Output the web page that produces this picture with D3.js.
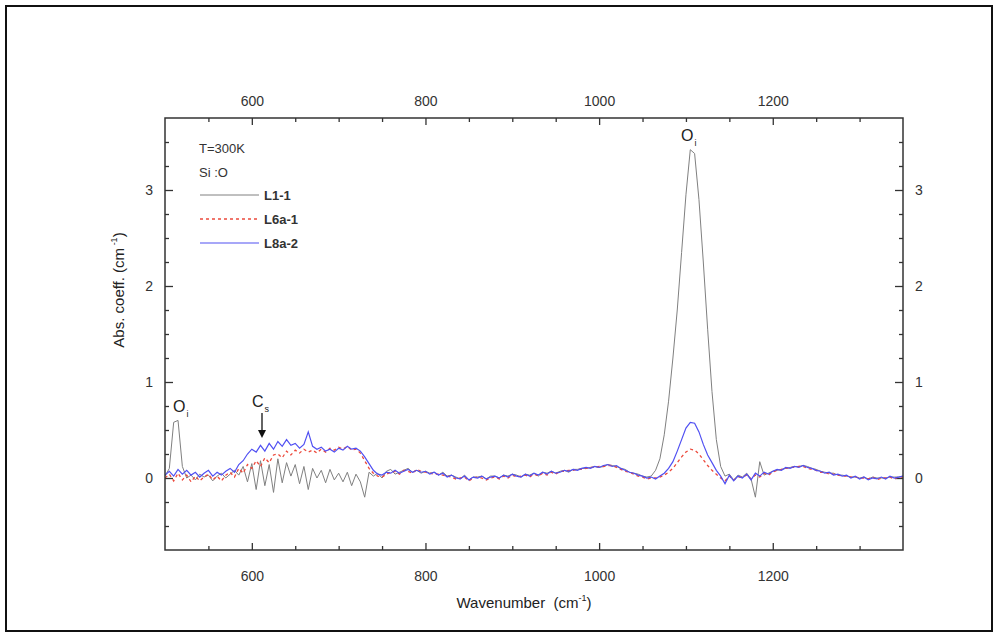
<!DOCTYPE html>
<html>
<head>
<meta charset="utf-8">
<script src="https://d3js.org/d3.v7.min.js"></script>
<style>
  body { margin: 0; background: #fff; }
  svg { display: block; font-family: "Liberation Sans", Arial, sans-serif; }
  .axis text { font-size: 14px; fill: #333; }
  .axis line { stroke: #333; stroke-width: 1.3; }
  .axis path { display: none; }
</style>
</head>
<body>
<svg width="999" height="637"></svg>
<script>
// wavenumber grid (cm^-1)
var wavenumbers = [
  500, 505, 510, 515, 520, 525, 530, 535, 540, 545, 550, 555, 560, 565, 570, 575, 580, 585, 590, 595,
  600, 605, 610, 615, 620, 625, 630, 635, 640, 645, 650, 655, 660, 665, 670, 675, 680, 685, 690, 695,
  700, 705, 710, 715, 720, 725, 730, 735, 740, 745, 750, 755, 760, 765, 770, 775, 780, 785, 790, 795,
  800, 805, 810, 815, 820, 825, 830, 835, 840, 845, 850, 855, 860, 865, 870, 875, 880, 885, 890, 895,
  900, 905, 910, 915, 920, 925, 930, 935, 940, 945, 950, 955, 960, 965, 970, 975, 980, 985, 990, 995,
  1000, 1005, 1010, 1015, 1020, 1025, 1030, 1035, 1040, 1045, 1050, 1055, 1060, 1065, 1070, 1075, 1080, 1085, 1090, 1095,
  1100, 1105, 1110, 1115, 1120, 1125, 1130, 1135, 1140, 1145, 1150, 1155, 1160, 1165, 1170, 1175, 1180, 1185, 1190, 1195,
  1200, 1205, 1210, 1215, 1220, 1225, 1230, 1235, 1240, 1245, 1250, 1255, 1260, 1265, 1270, 1275, 1280, 1285, 1290, 1295,
  1300, 1305, 1310, 1315, 1320, 1325, 1330, 1335, 1340, 1345, 1350
];

var seriesL1 = [
  0.02, 0.10, 0.58, 0.60, 0.12, 0.00, 0.03, -0.02, 0.04, 0.01, 0.03, -0.03, 0.02, 0.05, 0.00, 0.04, 0.08, 0.03, 0.12, -0.04,
  0.15, -0.12, 0.18, -0.08, 0.14, -0.15, 0.20, -0.05, 0.16, 0.02, 0.14, -0.06, 0.12, -0.12, 0.10, 0.00, 0.08, -0.05, 0.09, -0.02,
  0.05, -0.04, 0.06, -0.08, 0.04, -0.04, -0.20, 0.06, 0.02, 0.05, 0.00, 0.07, 0.09, 0.04, 0.06, 0.08, 0.10, 0.06, 0.08, 0.05,
  0.07, 0.05, 0.06, 0.03, 0.06, 0.02, 0.03, 0.01, -0.01, 0.03, -0.02, 0.01, 0.01, 0.02, -0.01, 0.02, 0.02, 0.00, 0.03, 0.02,
  0.04, 0.03, 0.01, 0.04, 0.03, 0.05, 0.02, 0.06, 0.05, 0.07, 0.05, 0.07, 0.08, 0.06, 0.09, 0.09, 0.10, 0.10, 0.11, 0.12,
  0.11, 0.12, 0.14, 0.13, 0.12, 0.10, 0.09, 0.06, 0.05, 0.04, 0.02, 0.01, 0.02, 0.08, 0.20, 0.45, 0.80, 1.25, 1.75, 2.35,
  2.95, 3.42, 3.38, 2.90, 2.25, 1.55, 0.90, 0.40, 0.12, 0.02, 0.04, -0.02, 0.03, 0.01, 0.05, -0.01, -0.20, 0.17, 0.03, 0.05,
  0.07, 0.08, 0.09, 0.10, 0.11, 0.12, 0.12, 0.13, 0.12, 0.10, 0.09, 0.07, 0.06, 0.05, 0.05, 0.03, 0.03, 0.02, 0.01, 0.01,
  0.00, 0.01, -0.01, 0.01, 0.00, 0.00, 0.00, 0.01, 0.01, 0.01, 0.02
];

var seriesL6a = [
  0.00, 0.04, -0.03, 0.05, -0.02, 0.03, -0.04, 0.02, -0.03, 0.01, 0.04, -0.02, 0.02, -0.03, 0.03, 0.06, 0.01, 0.10, 0.05, 0.14,
  0.10, 0.18, 0.12, 0.21, 0.16, 0.24, 0.25, 0.21, 0.28, 0.24, 0.29, 0.26, 0.30, 0.27, 0.29, 0.26, 0.30, 0.27, 0.31, 0.29,
  0.32, 0.30, 0.33, 0.29, 0.30, 0.26, 0.18, 0.10, 0.05, 0.02, 0.01, 0.04, 0.06, 0.07, 0.04, 0.08, 0.07, 0.05, 0.09, 0.07,
  0.06, 0.05, 0.04, 0.04, 0.03, 0.02, 0.01, -0.01, 0.00, 0.01, -0.03, 0.00, 0.01, 0.00, -0.02, 0.00, 0.01, -0.01, 0.02, 0.00,
  0.03, 0.01, 0.02, 0.03, 0.01, 0.04, 0.02, 0.05, 0.03, 0.06, 0.04, 0.07, 0.07, 0.08, 0.08, 0.09, 0.09, 0.10, 0.11, 0.11,
  0.12, 0.12, 0.13, 0.13, 0.11, 0.09, 0.07, 0.06, 0.04, 0.02, 0.01, -0.01, 0.00, 0.00, 0.01, 0.03, 0.06, 0.10, 0.16, 0.22,
  0.27, 0.30, 0.29, 0.25, 0.19, 0.13, 0.08, 0.04, 0.00, -0.03, 0.02, -0.02, 0.01, 0.01, 0.03, -0.01, 0.03, 0.01, 0.05, 0.03,
  0.06, 0.08, 0.09, 0.10, 0.11, 0.11, 0.12, 0.12, 0.10, 0.09, 0.08, 0.06, 0.06, 0.04, 0.04, 0.03, 0.02, 0.02, 0.01, 0.01,
  0.00, 0.00, -0.01, 0.01, -0.02, 0.00, 0.00, 0.01, -0.01, 0.01, 0.01
];

var seriesL8a = [
  0.03, 0.07, 0.02, 0.09, 0.04, 0.08, 0.03, 0.06, 0.01, 0.05, 0.08, 0.02, 0.06, 0.03, 0.07, 0.10, 0.06, 0.14, 0.18, 0.25,
  0.30, 0.27, 0.34, 0.28, 0.36, 0.30, 0.38, 0.33, 0.40, 0.34, 0.36, 0.31, 0.35, 0.48, 0.33, 0.30, 0.32, 0.28, 0.30, 0.27,
  0.31, 0.29, 0.33, 0.30, 0.31, 0.28, 0.22, 0.15, 0.08, 0.04, 0.03, 0.06, 0.05, 0.08, 0.05, 0.07, 0.09, 0.06, 0.08, 0.06,
  0.07, 0.04, 0.06, 0.03, 0.05, 0.01, 0.03, 0.00, -0.01, 0.02, -0.02, 0.01, 0.00, 0.02, -0.01, 0.01, 0.02, 0.00, 0.03, 0.01,
  0.04, 0.02, 0.01, 0.04, 0.02, 0.05, 0.03, 0.06, 0.04, 0.07, 0.05, 0.06, 0.08, 0.07, 0.09, 0.08, 0.10, 0.11, 0.10, 0.12,
  0.11, 0.13, 0.14, 0.12, 0.13, 0.10, 0.08, 0.06, 0.05, 0.03, 0.02, 0.00, 0.01, -0.01, 0.02, 0.05, 0.10, 0.17, 0.28, 0.40,
  0.52, 0.58, 0.57, 0.48, 0.35, 0.24, 0.16, 0.08, 0.02, -0.06, 0.03, -0.03, 0.02, 0.00, 0.04, -0.02, 0.05, 0.02, 0.06, 0.04,
  0.07, 0.09, 0.08, 0.11, 0.10, 0.12, 0.11, 0.13, 0.11, 0.10, 0.08, 0.07, 0.05, 0.06, 0.03, 0.04, 0.02, 0.03, 0.00, 0.02,
  -0.01, 0.01, -0.02, 0.00, -0.01, 0.01, -0.01, 0.02, 0.00, 0.01, 0.02
];

var xTicks = [600, 800, 1000, 1200];
var xMinor = [550, 650, 700, 750, 850, 900, 950, 1050, 1100, 1150, 1250, 1300];
var yTicks = [0, 1, 2, 3];
var yMinor = [-0.5, -0.25, 0.25, 0.5, 0.75, 1.25, 1.5, 1.75, 2.25, 2.5, 2.75, 3.25, 3.5];

var legendItems = [
  { name: 'L1-1', values: seriesL1, color: '#808080', dash: null, width: 1 },
  { name: 'L6a-1', values: seriesL6a, color: '#ec4a3c', dash: '3,3', width: 1.3 },
  { name: 'L8a-2', values: seriesL8a, color: '#5050f2', dash: null, width: 1.2 }
];

var svg = d3.select('svg');

// outer frame
svg.append('rect')
  .attr('x', 6).attr('y', 6)
  .attr('width', 986).attr('height', 625)
  .attr('fill', 'none')
  .attr('stroke', '#111')
  .attr('stroke-width', 2);

var plotLeft = 165, plotRight = 903, plotTop = 118, plotBottom = 550;

var x = d3.scaleLinear().domain([500, 1350]).range([plotLeft, plotRight]);
var y = d3.scaleLinear().domain([-0.75, 3.75]).range([plotBottom, plotTop]);

// axes (ticks pointing inward)
svg.append('g').attr('class', 'axis')
  .attr('transform', 'translate(0,' + plotBottom + ')')
  .call(d3.axisBottom(x).tickValues(xTicks).tickSizeInner(-7).tickSizeOuter(0).tickPadding(21).tickFormat(d3.format('d')));
svg.append('g').attr('class', 'axis')
  .attr('transform', 'translate(0,' + plotBottom + ')')
  .call(d3.axisBottom(x).tickValues(xMinor).tickSize(-4).tickFormat(''));
svg.append('g').attr('class', 'axis')
  .attr('transform', 'translate(0,' + plotTop + ')')
  .call(d3.axisTop(x).tickValues(xTicks).tickSizeInner(-7).tickSizeOuter(0).tickPadding(12).tickFormat(d3.format('d')));
svg.append('g').attr('class', 'axis')
  .attr('transform', 'translate(0,' + plotTop + ')')
  .call(d3.axisTop(x).tickValues(xMinor).tickSize(-4).tickFormat(''));

svg.append('g').attr('class', 'axis')
  .attr('transform', 'translate(' + plotLeft + ',0)')
  .call(d3.axisLeft(y).tickValues(yTicks).tickSizeInner(-8).tickSizeOuter(0).tickPadding(12).tickFormat(d3.format('d')));
svg.append('g').attr('class', 'axis')
  .attr('transform', 'translate(' + plotLeft + ',0)')
  .call(d3.axisLeft(y).tickValues(yMinor).tickSize(-4).tickFormat(''));
svg.append('g').attr('class', 'axis')
  .attr('transform', 'translate(' + plotRight + ',0)')
  .call(d3.axisRight(y).tickValues(yTicks).tickSizeInner(-8).tickSizeOuter(0).tickPadding(12).tickFormat(d3.format('d')));
svg.append('g').attr('class', 'axis')
  .attr('transform', 'translate(' + plotRight + ',0)')
  .call(d3.axisRight(y).tickValues(yMinor).tickSize(-4).tickFormat(''));

// curves
svg.append('clipPath').attr('id', 'plotclip')
  .append('rect').attr('x', plotLeft).attr('y', plotTop)
  .attr('width', plotRight - plotLeft).attr('height', plotBottom - plotTop);

var line = d3.line()
  .x(function(d) { return x(d[0]); })
  .y(function(d) { return y(d[1]); });

legendItems.forEach(function(s) {
  var pts = wavenumbers.map(function(w, i) { return [w, s.values[i]]; });
  svg.append('path')
    .datum(pts)
    .attr('clip-path', 'url(#plotclip)')
    .attr('d', line)
    .attr('fill', 'none')
    .attr('stroke', s.color)
    .attr('stroke-width', s.width)
    .attr('stroke-dasharray', s.dash);
});

// plot frame
svg.append('rect')
  .attr('x', plotLeft).attr('y', plotTop)
  .attr('width', plotRight - plotLeft).attr('height', plotBottom - plotTop)
  .attr('fill', 'none')
  .attr('stroke', '#333')
  .attr('stroke-width', 1.5);

// legend
svg.append('text').attr('x', 199).attr('y', 153).attr('font-size', 13).attr('fill', '#333').text('T=300K');
svg.append('text').attr('x', 199).attr('y', 177).attr('font-size', 13).attr('fill', '#333').text('Si :O');
legendItems.forEach(function(s, i) {
  var ly = 195 + i * 24;
  svg.append('line')
    .attr('x1', 200).attr('x2', 259).attr('y1', ly).attr('y2', ly)
    .attr('stroke', s.color)
    .attr('stroke-width', s.width)
    .attr('stroke-dasharray', s.dash);
  svg.append('text')
    .attr('x', 264).attr('y', ly + 5)
    .attr('font-size', 13).attr('font-weight', 'bold').attr('fill', '#333')
    .text(s.name);
});

// annotations
function label(xp, yp, main, sub) {
  var t = svg.append('text').attr('x', xp).attr('y', yp).attr('font-size', 16).attr('fill', '#222');
  t.append('tspan').text(main);
  t.append('tspan').attr('font-size', 9).attr('dy', 5).attr('dx', 1).text(sub);
}
label(681, 141, 'O', 'i');
label(173, 412, 'O', 'i');
label(252, 407, 'C', 's');

svg.append('line')
  .attr('x1', 262).attr('x2', 262).attr('y1', 413).attr('y2', 431)
  .attr('stroke', '#111').attr('stroke-width', 1.3);
svg.append('path')
  .attr('d', 'M258,430 L266,430 L262,438 Z')
  .attr('fill', '#111');

// axis titles
var xt = svg.append('text')
  .attr('x', 524).attr('y', 608)
  .attr('text-anchor', 'middle')
  .attr('font-size', 15).attr('fill', '#222')
  .style('white-space', 'pre');
xt.append('tspan').text('Wavenumber  (cm');
xt.append('tspan').attr('font-size', 9).attr('dy', -7).text('-1');
xt.append('tspan').attr('dy', 7).text(')');

var yt = svg.append('text')
  .attr('transform', 'translate(124,290) rotate(-90)')
  .attr('text-anchor', 'middle')
  .attr('font-size', 15).attr('fill', '#222')
  .style('white-space', 'pre');
yt.append('tspan').text('Abs. coeff. (cm');
yt.append('tspan').attr('font-size', 9).attr('dy', -7).text(' -1');
yt.append('tspan').attr('dy', 7).text(')');
</script>
</body>
</html>
